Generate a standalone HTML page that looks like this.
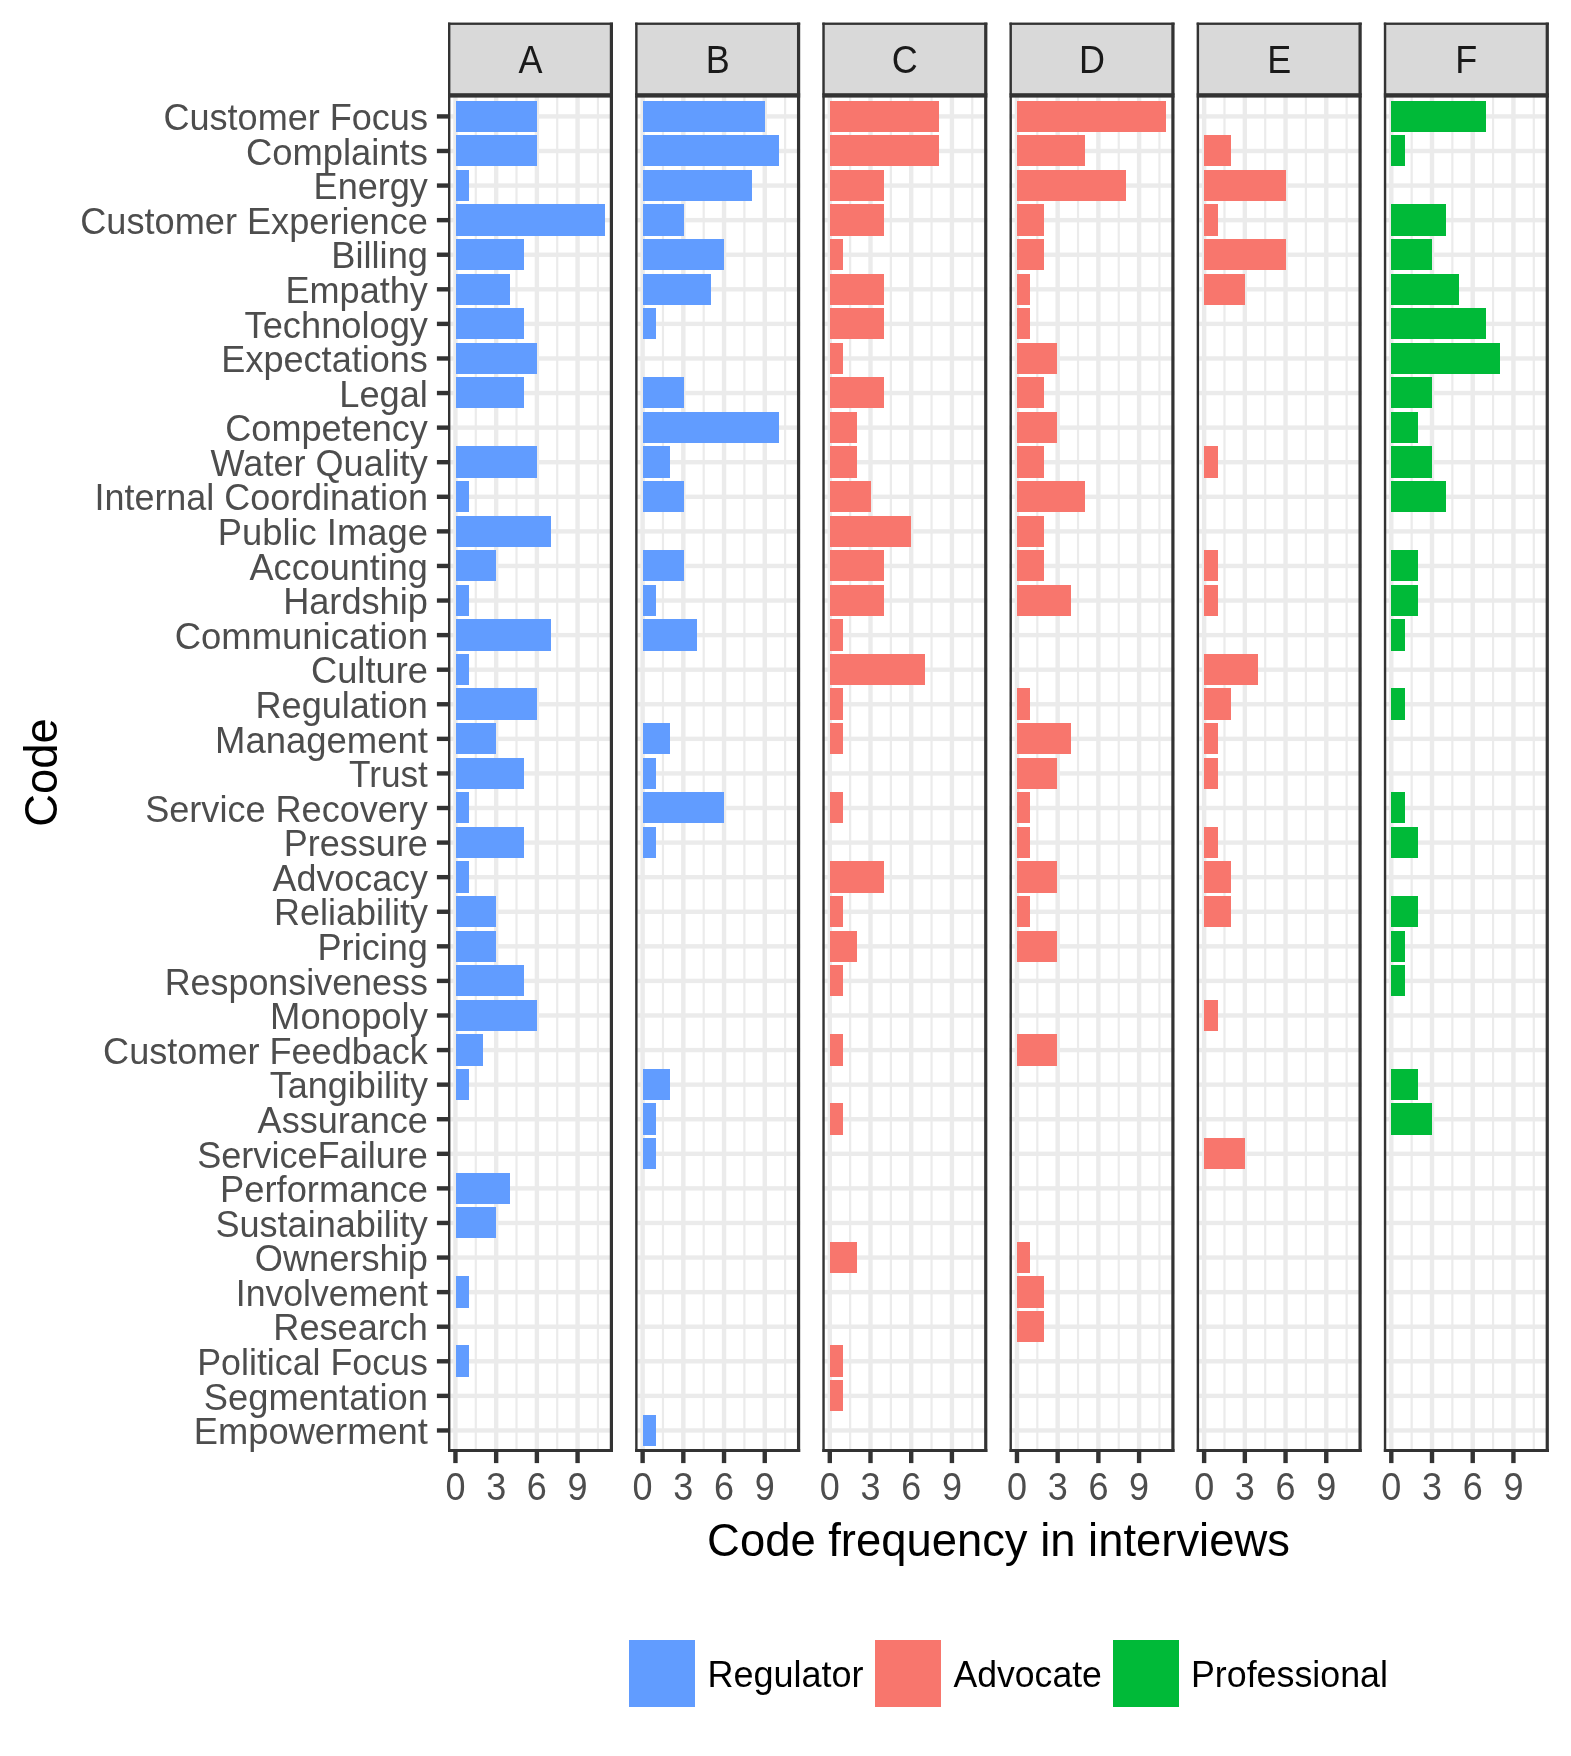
<!DOCTYPE html>
<html><head><meta charset="utf-8"><title>Code frequency</title>
<style>html,body{margin:0;padding:0;background:#fff;width:1571px;height:1756px;overflow:hidden}
text{font-family:"Liberation Sans",sans-serif}
svg{will-change:transform}</style></head>
<body>
<svg width="1571" height="1756" viewBox="0 0 1571 1756" style="display:block">
<rect width="1571" height="1756" fill="#FFFFFF"/>
<g>
<rect x="474.7" y="95.6" width="2.2" height="1356.4" fill="#EBEBEB"/>
<rect x="515.41" y="95.6" width="2.2" height="1356.4" fill="#EBEBEB"/>
<rect x="556.12" y="95.6" width="2.2" height="1356.4" fill="#EBEBEB"/>
<rect x="596.83" y="95.6" width="2.2" height="1356.4" fill="#EBEBEB"/>
<rect x="448" y="114.21" width="165" height="4.4" fill="#EBEBEB"/>
<rect x="448" y="148.79" width="165" height="4.4" fill="#EBEBEB"/>
<rect x="448" y="183.37" width="165" height="4.4" fill="#EBEBEB"/>
<rect x="448" y="217.95" width="165" height="4.4" fill="#EBEBEB"/>
<rect x="448" y="252.53" width="165" height="4.4" fill="#EBEBEB"/>
<rect x="448" y="287.11" width="165" height="4.4" fill="#EBEBEB"/>
<rect x="448" y="321.69" width="165" height="4.4" fill="#EBEBEB"/>
<rect x="448" y="356.27" width="165" height="4.4" fill="#EBEBEB"/>
<rect x="448" y="390.85" width="165" height="4.4" fill="#EBEBEB"/>
<rect x="448" y="425.43" width="165" height="4.4" fill="#EBEBEB"/>
<rect x="448" y="460.01" width="165" height="4.4" fill="#EBEBEB"/>
<rect x="448" y="494.59" width="165" height="4.4" fill="#EBEBEB"/>
<rect x="448" y="529.17" width="165" height="4.4" fill="#EBEBEB"/>
<rect x="448" y="563.75" width="165" height="4.4" fill="#EBEBEB"/>
<rect x="448" y="598.33" width="165" height="4.4" fill="#EBEBEB"/>
<rect x="448" y="632.91" width="165" height="4.4" fill="#EBEBEB"/>
<rect x="448" y="667.49" width="165" height="4.4" fill="#EBEBEB"/>
<rect x="448" y="702.07" width="165" height="4.4" fill="#EBEBEB"/>
<rect x="448" y="736.65" width="165" height="4.4" fill="#EBEBEB"/>
<rect x="448" y="771.23" width="165" height="4.4" fill="#EBEBEB"/>
<rect x="448" y="805.81" width="165" height="4.4" fill="#EBEBEB"/>
<rect x="448" y="840.39" width="165" height="4.4" fill="#EBEBEB"/>
<rect x="448" y="874.97" width="165" height="4.4" fill="#EBEBEB"/>
<rect x="448" y="909.55" width="165" height="4.4" fill="#EBEBEB"/>
<rect x="448" y="944.13" width="165" height="4.4" fill="#EBEBEB"/>
<rect x="448" y="978.71" width="165" height="4.4" fill="#EBEBEB"/>
<rect x="448" y="1013.29" width="165" height="4.4" fill="#EBEBEB"/>
<rect x="448" y="1047.87" width="165" height="4.4" fill="#EBEBEB"/>
<rect x="448" y="1082.45" width="165" height="4.4" fill="#EBEBEB"/>
<rect x="448" y="1117.03" width="165" height="4.4" fill="#EBEBEB"/>
<rect x="448" y="1151.61" width="165" height="4.4" fill="#EBEBEB"/>
<rect x="448" y="1186.19" width="165" height="4.4" fill="#EBEBEB"/>
<rect x="448" y="1220.77" width="165" height="4.4" fill="#EBEBEB"/>
<rect x="448" y="1255.35" width="165" height="4.4" fill="#EBEBEB"/>
<rect x="448" y="1289.93" width="165" height="4.4" fill="#EBEBEB"/>
<rect x="448" y="1324.51" width="165" height="4.4" fill="#EBEBEB"/>
<rect x="448" y="1359.09" width="165" height="4.4" fill="#EBEBEB"/>
<rect x="448" y="1393.67" width="165" height="4.4" fill="#EBEBEB"/>
<rect x="448" y="1428.25" width="165" height="4.4" fill="#EBEBEB"/>
<rect x="453.25" y="95.6" width="4.4" height="1356.4" fill="#EBEBEB"/>
<rect x="493.96" y="95.6" width="4.4" height="1356.4" fill="#EBEBEB"/>
<rect x="534.67" y="95.6" width="4.4" height="1356.4" fill="#EBEBEB"/>
<rect x="575.38" y="95.6" width="4.4" height="1356.4" fill="#EBEBEB"/>
<rect x="456" y="101" width="81" height="31" fill="#619CFF"/>
<rect x="456" y="135" width="81" height="31" fill="#619CFF"/>
<rect x="456" y="170" width="13" height="31" fill="#619CFF"/>
<rect x="456" y="204" width="149" height="32" fill="#619CFF"/>
<rect x="456" y="239" width="68" height="31" fill="#619CFF"/>
<rect x="456" y="274" width="54" height="31" fill="#619CFF"/>
<rect x="456" y="308" width="68" height="31" fill="#619CFF"/>
<rect x="456" y="343" width="81" height="31" fill="#619CFF"/>
<rect x="456" y="377" width="68" height="31" fill="#619CFF"/>
<rect x="456" y="446" width="81" height="32" fill="#619CFF"/>
<rect x="456" y="481" width="13" height="31" fill="#619CFF"/>
<rect x="456" y="516" width="95" height="31" fill="#619CFF"/>
<rect x="456" y="550" width="40" height="31" fill="#619CFF"/>
<rect x="456" y="585" width="13" height="31" fill="#619CFF"/>
<rect x="456" y="619" width="95" height="32" fill="#619CFF"/>
<rect x="456" y="654" width="13" height="31" fill="#619CFF"/>
<rect x="456" y="688" width="81" height="32" fill="#619CFF"/>
<rect x="456" y="723" width="40" height="31" fill="#619CFF"/>
<rect x="456" y="758" width="68" height="31" fill="#619CFF"/>
<rect x="456" y="792" width="13" height="31" fill="#619CFF"/>
<rect x="456" y="827" width="68" height="31" fill="#619CFF"/>
<rect x="456" y="861" width="13" height="32" fill="#619CFF"/>
<rect x="456" y="896" width="40" height="31" fill="#619CFF"/>
<rect x="456" y="931" width="40" height="31" fill="#619CFF"/>
<rect x="456" y="965" width="68" height="31" fill="#619CFF"/>
<rect x="456" y="1000" width="81" height="31" fill="#619CFF"/>
<rect x="456" y="1034" width="27" height="32" fill="#619CFF"/>
<rect x="456" y="1069" width="13" height="31" fill="#619CFF"/>
<rect x="456" y="1173" width="54" height="31" fill="#619CFF"/>
<rect x="456" y="1207" width="40" height="31" fill="#619CFF"/>
<rect x="456" y="1276" width="13" height="32" fill="#619CFF"/>
<rect x="456" y="1345" width="13" height="32" fill="#619CFF"/>
<rect x="448" y="95.6" width="2.4" height="1356.4" fill="#333333"/>
<rect x="609.8" y="95.6" width="3.2" height="1356.4" fill="#333333"/>
<rect x="448" y="1449" width="165" height="3" fill="#333333"/>
<rect x="448" y="22.6" width="165" height="73" fill="#D9D9D9"/>
<rect x="448" y="22.6" width="165" height="2.3" fill="#333333"/>
<rect x="448" y="22.6" width="2.4" height="73" fill="#333333"/>
<rect x="609.8" y="22.6" width="3.2" height="73" fill="#333333"/>
<rect x="448" y="93.2" width="165" height="4.4" fill="#333333"/>
<text transform="translate(530.5,72.8) scale(1,1.075)" text-anchor="middle" font-family="'Liberation Sans', sans-serif" font-size="36.0" fill="#1A1A1A">A</text>
<rect x="453.25" y="1452" width="4.4" height="11.1" fill="#333333"/>
<text transform="translate(455.45,1500.1) scale(1,1.055)" text-anchor="middle" font-family="'Liberation Sans', sans-serif" font-size="36.0" fill="#4D4D4D">0</text>
<rect x="493.96" y="1452" width="4.4" height="11.1" fill="#333333"/>
<text transform="translate(496.16,1500.1) scale(1,1.055)" text-anchor="middle" font-family="'Liberation Sans', sans-serif" font-size="36.0" fill="#4D4D4D">3</text>
<rect x="534.67" y="1452" width="4.4" height="11.1" fill="#333333"/>
<text transform="translate(536.87,1500.1) scale(1,1.055)" text-anchor="middle" font-family="'Liberation Sans', sans-serif" font-size="36.0" fill="#4D4D4D">6</text>
<rect x="575.38" y="1452" width="4.4" height="11.1" fill="#333333"/>
<text transform="translate(577.58,1500.1) scale(1,1.055)" text-anchor="middle" font-family="'Liberation Sans', sans-serif" font-size="36.0" fill="#4D4D4D">9</text>
</g>
<g>
<rect x="661.88" y="95.6" width="2.2" height="1356.4" fill="#EBEBEB"/>
<rect x="702.58" y="95.6" width="2.2" height="1356.4" fill="#EBEBEB"/>
<rect x="743.29" y="95.6" width="2.2" height="1356.4" fill="#EBEBEB"/>
<rect x="784" y="95.6" width="2.2" height="1356.4" fill="#EBEBEB"/>
<rect x="635.17" y="114.21" width="165" height="4.4" fill="#EBEBEB"/>
<rect x="635.17" y="148.79" width="165" height="4.4" fill="#EBEBEB"/>
<rect x="635.17" y="183.37" width="165" height="4.4" fill="#EBEBEB"/>
<rect x="635.17" y="217.95" width="165" height="4.4" fill="#EBEBEB"/>
<rect x="635.17" y="252.53" width="165" height="4.4" fill="#EBEBEB"/>
<rect x="635.17" y="287.11" width="165" height="4.4" fill="#EBEBEB"/>
<rect x="635.17" y="321.69" width="165" height="4.4" fill="#EBEBEB"/>
<rect x="635.17" y="356.27" width="165" height="4.4" fill="#EBEBEB"/>
<rect x="635.17" y="390.85" width="165" height="4.4" fill="#EBEBEB"/>
<rect x="635.17" y="425.43" width="165" height="4.4" fill="#EBEBEB"/>
<rect x="635.17" y="460.01" width="165" height="4.4" fill="#EBEBEB"/>
<rect x="635.17" y="494.59" width="165" height="4.4" fill="#EBEBEB"/>
<rect x="635.17" y="529.17" width="165" height="4.4" fill="#EBEBEB"/>
<rect x="635.17" y="563.75" width="165" height="4.4" fill="#EBEBEB"/>
<rect x="635.17" y="598.33" width="165" height="4.4" fill="#EBEBEB"/>
<rect x="635.17" y="632.91" width="165" height="4.4" fill="#EBEBEB"/>
<rect x="635.17" y="667.49" width="165" height="4.4" fill="#EBEBEB"/>
<rect x="635.17" y="702.07" width="165" height="4.4" fill="#EBEBEB"/>
<rect x="635.17" y="736.65" width="165" height="4.4" fill="#EBEBEB"/>
<rect x="635.17" y="771.23" width="165" height="4.4" fill="#EBEBEB"/>
<rect x="635.17" y="805.81" width="165" height="4.4" fill="#EBEBEB"/>
<rect x="635.17" y="840.39" width="165" height="4.4" fill="#EBEBEB"/>
<rect x="635.17" y="874.97" width="165" height="4.4" fill="#EBEBEB"/>
<rect x="635.17" y="909.55" width="165" height="4.4" fill="#EBEBEB"/>
<rect x="635.17" y="944.13" width="165" height="4.4" fill="#EBEBEB"/>
<rect x="635.17" y="978.71" width="165" height="4.4" fill="#EBEBEB"/>
<rect x="635.17" y="1013.29" width="165" height="4.4" fill="#EBEBEB"/>
<rect x="635.17" y="1047.87" width="165" height="4.4" fill="#EBEBEB"/>
<rect x="635.17" y="1082.45" width="165" height="4.4" fill="#EBEBEB"/>
<rect x="635.17" y="1117.03" width="165" height="4.4" fill="#EBEBEB"/>
<rect x="635.17" y="1151.61" width="165" height="4.4" fill="#EBEBEB"/>
<rect x="635.17" y="1186.19" width="165" height="4.4" fill="#EBEBEB"/>
<rect x="635.17" y="1220.77" width="165" height="4.4" fill="#EBEBEB"/>
<rect x="635.17" y="1255.35" width="165" height="4.4" fill="#EBEBEB"/>
<rect x="635.17" y="1289.93" width="165" height="4.4" fill="#EBEBEB"/>
<rect x="635.17" y="1324.51" width="165" height="4.4" fill="#EBEBEB"/>
<rect x="635.17" y="1359.09" width="165" height="4.4" fill="#EBEBEB"/>
<rect x="635.17" y="1393.67" width="165" height="4.4" fill="#EBEBEB"/>
<rect x="635.17" y="1428.25" width="165" height="4.4" fill="#EBEBEB"/>
<rect x="640.42" y="95.6" width="4.4" height="1356.4" fill="#EBEBEB"/>
<rect x="681.13" y="95.6" width="4.4" height="1356.4" fill="#EBEBEB"/>
<rect x="721.84" y="95.6" width="4.4" height="1356.4" fill="#EBEBEB"/>
<rect x="762.55" y="95.6" width="4.4" height="1356.4" fill="#EBEBEB"/>
<rect x="643" y="101" width="122" height="31" fill="#619CFF"/>
<rect x="643" y="135" width="136" height="31" fill="#619CFF"/>
<rect x="643" y="170" width="109" height="31" fill="#619CFF"/>
<rect x="643" y="204" width="41" height="32" fill="#619CFF"/>
<rect x="643" y="239" width="81" height="31" fill="#619CFF"/>
<rect x="643" y="274" width="68" height="31" fill="#619CFF"/>
<rect x="643" y="308" width="13" height="31" fill="#619CFF"/>
<rect x="643" y="377" width="41" height="31" fill="#619CFF"/>
<rect x="643" y="412" width="136" height="31" fill="#619CFF"/>
<rect x="643" y="446" width="27" height="32" fill="#619CFF"/>
<rect x="643" y="481" width="41" height="31" fill="#619CFF"/>
<rect x="643" y="550" width="41" height="31" fill="#619CFF"/>
<rect x="643" y="585" width="13" height="31" fill="#619CFF"/>
<rect x="643" y="619" width="54" height="32" fill="#619CFF"/>
<rect x="643" y="723" width="27" height="31" fill="#619CFF"/>
<rect x="643" y="758" width="13" height="31" fill="#619CFF"/>
<rect x="643" y="792" width="81" height="31" fill="#619CFF"/>
<rect x="643" y="827" width="13" height="31" fill="#619CFF"/>
<rect x="643" y="1069" width="27" height="31" fill="#619CFF"/>
<rect x="643" y="1103" width="13" height="32" fill="#619CFF"/>
<rect x="643" y="1138" width="13" height="31" fill="#619CFF"/>
<rect x="643" y="1415" width="13" height="31" fill="#619CFF"/>
<rect x="635.17" y="95.6" width="2.4" height="1356.4" fill="#333333"/>
<rect x="796.97" y="95.6" width="3.2" height="1356.4" fill="#333333"/>
<rect x="635.17" y="1449" width="165" height="3" fill="#333333"/>
<rect x="635.17" y="22.6" width="165" height="73" fill="#D9D9D9"/>
<rect x="635.17" y="22.6" width="165" height="2.3" fill="#333333"/>
<rect x="635.17" y="22.6" width="2.4" height="73" fill="#333333"/>
<rect x="796.97" y="22.6" width="3.2" height="73" fill="#333333"/>
<rect x="635.17" y="93.2" width="165" height="4.4" fill="#333333"/>
<text transform="translate(717.67,72.8) scale(1,1.075)" text-anchor="middle" font-family="'Liberation Sans', sans-serif" font-size="36.0" fill="#1A1A1A">B</text>
<rect x="640.42" y="1452" width="4.4" height="11.1" fill="#333333"/>
<text transform="translate(642.62,1500.1) scale(1,1.055)" text-anchor="middle" font-family="'Liberation Sans', sans-serif" font-size="36.0" fill="#4D4D4D">0</text>
<rect x="681.13" y="1452" width="4.4" height="11.1" fill="#333333"/>
<text transform="translate(683.33,1500.1) scale(1,1.055)" text-anchor="middle" font-family="'Liberation Sans', sans-serif" font-size="36.0" fill="#4D4D4D">3</text>
<rect x="721.84" y="1452" width="4.4" height="11.1" fill="#333333"/>
<text transform="translate(724.04,1500.1) scale(1,1.055)" text-anchor="middle" font-family="'Liberation Sans', sans-serif" font-size="36.0" fill="#4D4D4D">6</text>
<rect x="762.55" y="1452" width="4.4" height="11.1" fill="#333333"/>
<text transform="translate(764.75,1500.1) scale(1,1.055)" text-anchor="middle" font-family="'Liberation Sans', sans-serif" font-size="36.0" fill="#4D4D4D">9</text>
</g>
<g>
<rect x="849.04" y="95.6" width="2.2" height="1356.4" fill="#EBEBEB"/>
<rect x="889.75" y="95.6" width="2.2" height="1356.4" fill="#EBEBEB"/>
<rect x="930.46" y="95.6" width="2.2" height="1356.4" fill="#EBEBEB"/>
<rect x="971.17" y="95.6" width="2.2" height="1356.4" fill="#EBEBEB"/>
<rect x="822.34" y="114.21" width="165" height="4.4" fill="#EBEBEB"/>
<rect x="822.34" y="148.79" width="165" height="4.4" fill="#EBEBEB"/>
<rect x="822.34" y="183.37" width="165" height="4.4" fill="#EBEBEB"/>
<rect x="822.34" y="217.95" width="165" height="4.4" fill="#EBEBEB"/>
<rect x="822.34" y="252.53" width="165" height="4.4" fill="#EBEBEB"/>
<rect x="822.34" y="287.11" width="165" height="4.4" fill="#EBEBEB"/>
<rect x="822.34" y="321.69" width="165" height="4.4" fill="#EBEBEB"/>
<rect x="822.34" y="356.27" width="165" height="4.4" fill="#EBEBEB"/>
<rect x="822.34" y="390.85" width="165" height="4.4" fill="#EBEBEB"/>
<rect x="822.34" y="425.43" width="165" height="4.4" fill="#EBEBEB"/>
<rect x="822.34" y="460.01" width="165" height="4.4" fill="#EBEBEB"/>
<rect x="822.34" y="494.59" width="165" height="4.4" fill="#EBEBEB"/>
<rect x="822.34" y="529.17" width="165" height="4.4" fill="#EBEBEB"/>
<rect x="822.34" y="563.75" width="165" height="4.4" fill="#EBEBEB"/>
<rect x="822.34" y="598.33" width="165" height="4.4" fill="#EBEBEB"/>
<rect x="822.34" y="632.91" width="165" height="4.4" fill="#EBEBEB"/>
<rect x="822.34" y="667.49" width="165" height="4.4" fill="#EBEBEB"/>
<rect x="822.34" y="702.07" width="165" height="4.4" fill="#EBEBEB"/>
<rect x="822.34" y="736.65" width="165" height="4.4" fill="#EBEBEB"/>
<rect x="822.34" y="771.23" width="165" height="4.4" fill="#EBEBEB"/>
<rect x="822.34" y="805.81" width="165" height="4.4" fill="#EBEBEB"/>
<rect x="822.34" y="840.39" width="165" height="4.4" fill="#EBEBEB"/>
<rect x="822.34" y="874.97" width="165" height="4.4" fill="#EBEBEB"/>
<rect x="822.34" y="909.55" width="165" height="4.4" fill="#EBEBEB"/>
<rect x="822.34" y="944.13" width="165" height="4.4" fill="#EBEBEB"/>
<rect x="822.34" y="978.71" width="165" height="4.4" fill="#EBEBEB"/>
<rect x="822.34" y="1013.29" width="165" height="4.4" fill="#EBEBEB"/>
<rect x="822.34" y="1047.87" width="165" height="4.4" fill="#EBEBEB"/>
<rect x="822.34" y="1082.45" width="165" height="4.4" fill="#EBEBEB"/>
<rect x="822.34" y="1117.03" width="165" height="4.4" fill="#EBEBEB"/>
<rect x="822.34" y="1151.61" width="165" height="4.4" fill="#EBEBEB"/>
<rect x="822.34" y="1186.19" width="165" height="4.4" fill="#EBEBEB"/>
<rect x="822.34" y="1220.77" width="165" height="4.4" fill="#EBEBEB"/>
<rect x="822.34" y="1255.35" width="165" height="4.4" fill="#EBEBEB"/>
<rect x="822.34" y="1289.93" width="165" height="4.4" fill="#EBEBEB"/>
<rect x="822.34" y="1324.51" width="165" height="4.4" fill="#EBEBEB"/>
<rect x="822.34" y="1359.09" width="165" height="4.4" fill="#EBEBEB"/>
<rect x="822.34" y="1393.67" width="165" height="4.4" fill="#EBEBEB"/>
<rect x="822.34" y="1428.25" width="165" height="4.4" fill="#EBEBEB"/>
<rect x="827.59" y="95.6" width="4.4" height="1356.4" fill="#EBEBEB"/>
<rect x="868.3" y="95.6" width="4.4" height="1356.4" fill="#EBEBEB"/>
<rect x="909.01" y="95.6" width="4.4" height="1356.4" fill="#EBEBEB"/>
<rect x="949.72" y="95.6" width="4.4" height="1356.4" fill="#EBEBEB"/>
<rect x="830" y="101" width="109" height="31" fill="#F8766D"/>
<rect x="830" y="135" width="109" height="31" fill="#F8766D"/>
<rect x="830" y="170" width="54" height="31" fill="#F8766D"/>
<rect x="830" y="204" width="54" height="32" fill="#F8766D"/>
<rect x="830" y="239" width="13" height="31" fill="#F8766D"/>
<rect x="830" y="274" width="54" height="31" fill="#F8766D"/>
<rect x="830" y="308" width="54" height="31" fill="#F8766D"/>
<rect x="830" y="343" width="13" height="31" fill="#F8766D"/>
<rect x="830" y="377" width="54" height="31" fill="#F8766D"/>
<rect x="830" y="412" width="27" height="31" fill="#F8766D"/>
<rect x="830" y="446" width="27" height="32" fill="#F8766D"/>
<rect x="830" y="481" width="41" height="31" fill="#F8766D"/>
<rect x="830" y="516" width="81" height="31" fill="#F8766D"/>
<rect x="830" y="550" width="54" height="31" fill="#F8766D"/>
<rect x="830" y="585" width="54" height="31" fill="#F8766D"/>
<rect x="830" y="619" width="13" height="32" fill="#F8766D"/>
<rect x="830" y="654" width="95" height="31" fill="#F8766D"/>
<rect x="830" y="688" width="13" height="32" fill="#F8766D"/>
<rect x="830" y="723" width="13" height="31" fill="#F8766D"/>
<rect x="830" y="792" width="13" height="31" fill="#F8766D"/>
<rect x="830" y="861" width="54" height="32" fill="#F8766D"/>
<rect x="830" y="896" width="13" height="31" fill="#F8766D"/>
<rect x="830" y="931" width="27" height="31" fill="#F8766D"/>
<rect x="830" y="965" width="13" height="31" fill="#F8766D"/>
<rect x="830" y="1034" width="13" height="32" fill="#F8766D"/>
<rect x="830" y="1103" width="13" height="32" fill="#F8766D"/>
<rect x="830" y="1242" width="27" height="31" fill="#F8766D"/>
<rect x="830" y="1345" width="13" height="32" fill="#F8766D"/>
<rect x="830" y="1380" width="13" height="31" fill="#F8766D"/>
<rect x="822.34" y="95.6" width="2.4" height="1356.4" fill="#333333"/>
<rect x="984.14" y="95.6" width="3.2" height="1356.4" fill="#333333"/>
<rect x="822.34" y="1449" width="165" height="3" fill="#333333"/>
<rect x="822.34" y="22.6" width="165" height="73" fill="#D9D9D9"/>
<rect x="822.34" y="22.6" width="165" height="2.3" fill="#333333"/>
<rect x="822.34" y="22.6" width="2.4" height="73" fill="#333333"/>
<rect x="984.14" y="22.6" width="3.2" height="73" fill="#333333"/>
<rect x="822.34" y="93.2" width="165" height="4.4" fill="#333333"/>
<text transform="translate(904.84,72.8) scale(1,1.075)" text-anchor="middle" font-family="'Liberation Sans', sans-serif" font-size="36.0" fill="#1A1A1A">C</text>
<rect x="827.59" y="1452" width="4.4" height="11.1" fill="#333333"/>
<text transform="translate(829.79,1500.1) scale(1,1.055)" text-anchor="middle" font-family="'Liberation Sans', sans-serif" font-size="36.0" fill="#4D4D4D">0</text>
<rect x="868.3" y="1452" width="4.4" height="11.1" fill="#333333"/>
<text transform="translate(870.5,1500.1) scale(1,1.055)" text-anchor="middle" font-family="'Liberation Sans', sans-serif" font-size="36.0" fill="#4D4D4D">3</text>
<rect x="909.01" y="1452" width="4.4" height="11.1" fill="#333333"/>
<text transform="translate(911.21,1500.1) scale(1,1.055)" text-anchor="middle" font-family="'Liberation Sans', sans-serif" font-size="36.0" fill="#4D4D4D">6</text>
<rect x="949.72" y="1452" width="4.4" height="11.1" fill="#333333"/>
<text transform="translate(951.92,1500.1) scale(1,1.055)" text-anchor="middle" font-family="'Liberation Sans', sans-serif" font-size="36.0" fill="#4D4D4D">9</text>
</g>
<g>
<rect x="1036.22" y="95.6" width="2.2" height="1356.4" fill="#EBEBEB"/>
<rect x="1076.93" y="95.6" width="2.2" height="1356.4" fill="#EBEBEB"/>
<rect x="1117.64" y="95.6" width="2.2" height="1356.4" fill="#EBEBEB"/>
<rect x="1158.35" y="95.6" width="2.2" height="1356.4" fill="#EBEBEB"/>
<rect x="1009.51" y="114.21" width="165" height="4.4" fill="#EBEBEB"/>
<rect x="1009.51" y="148.79" width="165" height="4.4" fill="#EBEBEB"/>
<rect x="1009.51" y="183.37" width="165" height="4.4" fill="#EBEBEB"/>
<rect x="1009.51" y="217.95" width="165" height="4.4" fill="#EBEBEB"/>
<rect x="1009.51" y="252.53" width="165" height="4.4" fill="#EBEBEB"/>
<rect x="1009.51" y="287.11" width="165" height="4.4" fill="#EBEBEB"/>
<rect x="1009.51" y="321.69" width="165" height="4.4" fill="#EBEBEB"/>
<rect x="1009.51" y="356.27" width="165" height="4.4" fill="#EBEBEB"/>
<rect x="1009.51" y="390.85" width="165" height="4.4" fill="#EBEBEB"/>
<rect x="1009.51" y="425.43" width="165" height="4.4" fill="#EBEBEB"/>
<rect x="1009.51" y="460.01" width="165" height="4.4" fill="#EBEBEB"/>
<rect x="1009.51" y="494.59" width="165" height="4.4" fill="#EBEBEB"/>
<rect x="1009.51" y="529.17" width="165" height="4.4" fill="#EBEBEB"/>
<rect x="1009.51" y="563.75" width="165" height="4.4" fill="#EBEBEB"/>
<rect x="1009.51" y="598.33" width="165" height="4.4" fill="#EBEBEB"/>
<rect x="1009.51" y="632.91" width="165" height="4.4" fill="#EBEBEB"/>
<rect x="1009.51" y="667.49" width="165" height="4.4" fill="#EBEBEB"/>
<rect x="1009.51" y="702.07" width="165" height="4.4" fill="#EBEBEB"/>
<rect x="1009.51" y="736.65" width="165" height="4.4" fill="#EBEBEB"/>
<rect x="1009.51" y="771.23" width="165" height="4.4" fill="#EBEBEB"/>
<rect x="1009.51" y="805.81" width="165" height="4.4" fill="#EBEBEB"/>
<rect x="1009.51" y="840.39" width="165" height="4.4" fill="#EBEBEB"/>
<rect x="1009.51" y="874.97" width="165" height="4.4" fill="#EBEBEB"/>
<rect x="1009.51" y="909.55" width="165" height="4.4" fill="#EBEBEB"/>
<rect x="1009.51" y="944.13" width="165" height="4.4" fill="#EBEBEB"/>
<rect x="1009.51" y="978.71" width="165" height="4.4" fill="#EBEBEB"/>
<rect x="1009.51" y="1013.29" width="165" height="4.4" fill="#EBEBEB"/>
<rect x="1009.51" y="1047.87" width="165" height="4.4" fill="#EBEBEB"/>
<rect x="1009.51" y="1082.45" width="165" height="4.4" fill="#EBEBEB"/>
<rect x="1009.51" y="1117.03" width="165" height="4.4" fill="#EBEBEB"/>
<rect x="1009.51" y="1151.61" width="165" height="4.4" fill="#EBEBEB"/>
<rect x="1009.51" y="1186.19" width="165" height="4.4" fill="#EBEBEB"/>
<rect x="1009.51" y="1220.77" width="165" height="4.4" fill="#EBEBEB"/>
<rect x="1009.51" y="1255.35" width="165" height="4.4" fill="#EBEBEB"/>
<rect x="1009.51" y="1289.93" width="165" height="4.4" fill="#EBEBEB"/>
<rect x="1009.51" y="1324.51" width="165" height="4.4" fill="#EBEBEB"/>
<rect x="1009.51" y="1359.09" width="165" height="4.4" fill="#EBEBEB"/>
<rect x="1009.51" y="1393.67" width="165" height="4.4" fill="#EBEBEB"/>
<rect x="1009.51" y="1428.25" width="165" height="4.4" fill="#EBEBEB"/>
<rect x="1014.76" y="95.6" width="4.4" height="1356.4" fill="#EBEBEB"/>
<rect x="1055.47" y="95.6" width="4.4" height="1356.4" fill="#EBEBEB"/>
<rect x="1096.18" y="95.6" width="4.4" height="1356.4" fill="#EBEBEB"/>
<rect x="1136.89" y="95.6" width="4.4" height="1356.4" fill="#EBEBEB"/>
<rect x="1017" y="101" width="149" height="31" fill="#F8766D"/>
<rect x="1017" y="135" width="68" height="31" fill="#F8766D"/>
<rect x="1017" y="170" width="109" height="31" fill="#F8766D"/>
<rect x="1017" y="204" width="27" height="32" fill="#F8766D"/>
<rect x="1017" y="239" width="27" height="31" fill="#F8766D"/>
<rect x="1017" y="274" width="13" height="31" fill="#F8766D"/>
<rect x="1017" y="308" width="13" height="31" fill="#F8766D"/>
<rect x="1017" y="343" width="40" height="31" fill="#F8766D"/>
<rect x="1017" y="377" width="27" height="31" fill="#F8766D"/>
<rect x="1017" y="412" width="40" height="31" fill="#F8766D"/>
<rect x="1017" y="446" width="27" height="32" fill="#F8766D"/>
<rect x="1017" y="481" width="68" height="31" fill="#F8766D"/>
<rect x="1017" y="516" width="27" height="31" fill="#F8766D"/>
<rect x="1017" y="550" width="27" height="31" fill="#F8766D"/>
<rect x="1017" y="585" width="54" height="31" fill="#F8766D"/>
<rect x="1017" y="688" width="13" height="32" fill="#F8766D"/>
<rect x="1017" y="723" width="54" height="31" fill="#F8766D"/>
<rect x="1017" y="758" width="40" height="31" fill="#F8766D"/>
<rect x="1017" y="792" width="13" height="31" fill="#F8766D"/>
<rect x="1017" y="827" width="13" height="31" fill="#F8766D"/>
<rect x="1017" y="861" width="40" height="32" fill="#F8766D"/>
<rect x="1017" y="896" width="13" height="31" fill="#F8766D"/>
<rect x="1017" y="931" width="40" height="31" fill="#F8766D"/>
<rect x="1017" y="1034" width="40" height="32" fill="#F8766D"/>
<rect x="1017" y="1242" width="13" height="31" fill="#F8766D"/>
<rect x="1017" y="1276" width="27" height="32" fill="#F8766D"/>
<rect x="1017" y="1311" width="27" height="31" fill="#F8766D"/>
<rect x="1009.51" y="95.6" width="2.4" height="1356.4" fill="#333333"/>
<rect x="1171.31" y="95.6" width="3.2" height="1356.4" fill="#333333"/>
<rect x="1009.51" y="1449" width="165" height="3" fill="#333333"/>
<rect x="1009.51" y="22.6" width="165" height="73" fill="#D9D9D9"/>
<rect x="1009.51" y="22.6" width="165" height="2.3" fill="#333333"/>
<rect x="1009.51" y="22.6" width="2.4" height="73" fill="#333333"/>
<rect x="1171.31" y="22.6" width="3.2" height="73" fill="#333333"/>
<rect x="1009.51" y="93.2" width="165" height="4.4" fill="#333333"/>
<text transform="translate(1092.01,72.8) scale(1,1.075)" text-anchor="middle" font-family="'Liberation Sans', sans-serif" font-size="36.0" fill="#1A1A1A">D</text>
<rect x="1014.76" y="1452" width="4.4" height="11.1" fill="#333333"/>
<text transform="translate(1016.96,1500.1) scale(1,1.055)" text-anchor="middle" font-family="'Liberation Sans', sans-serif" font-size="36.0" fill="#4D4D4D">0</text>
<rect x="1055.47" y="1452" width="4.4" height="11.1" fill="#333333"/>
<text transform="translate(1057.67,1500.1) scale(1,1.055)" text-anchor="middle" font-family="'Liberation Sans', sans-serif" font-size="36.0" fill="#4D4D4D">3</text>
<rect x="1096.18" y="1452" width="4.4" height="11.1" fill="#333333"/>
<text transform="translate(1098.38,1500.1) scale(1,1.055)" text-anchor="middle" font-family="'Liberation Sans', sans-serif" font-size="36.0" fill="#4D4D4D">6</text>
<rect x="1136.89" y="1452" width="4.4" height="11.1" fill="#333333"/>
<text transform="translate(1139.09,1500.1) scale(1,1.055)" text-anchor="middle" font-family="'Liberation Sans', sans-serif" font-size="36.0" fill="#4D4D4D">9</text>
</g>
<g>
<rect x="1223.38" y="95.6" width="2.2" height="1356.4" fill="#EBEBEB"/>
<rect x="1264.1" y="95.6" width="2.2" height="1356.4" fill="#EBEBEB"/>
<rect x="1304.81" y="95.6" width="2.2" height="1356.4" fill="#EBEBEB"/>
<rect x="1345.51" y="95.6" width="2.2" height="1356.4" fill="#EBEBEB"/>
<rect x="1196.68" y="114.21" width="165" height="4.4" fill="#EBEBEB"/>
<rect x="1196.68" y="148.79" width="165" height="4.4" fill="#EBEBEB"/>
<rect x="1196.68" y="183.37" width="165" height="4.4" fill="#EBEBEB"/>
<rect x="1196.68" y="217.95" width="165" height="4.4" fill="#EBEBEB"/>
<rect x="1196.68" y="252.53" width="165" height="4.4" fill="#EBEBEB"/>
<rect x="1196.68" y="287.11" width="165" height="4.4" fill="#EBEBEB"/>
<rect x="1196.68" y="321.69" width="165" height="4.4" fill="#EBEBEB"/>
<rect x="1196.68" y="356.27" width="165" height="4.4" fill="#EBEBEB"/>
<rect x="1196.68" y="390.85" width="165" height="4.4" fill="#EBEBEB"/>
<rect x="1196.68" y="425.43" width="165" height="4.4" fill="#EBEBEB"/>
<rect x="1196.68" y="460.01" width="165" height="4.4" fill="#EBEBEB"/>
<rect x="1196.68" y="494.59" width="165" height="4.4" fill="#EBEBEB"/>
<rect x="1196.68" y="529.17" width="165" height="4.4" fill="#EBEBEB"/>
<rect x="1196.68" y="563.75" width="165" height="4.4" fill="#EBEBEB"/>
<rect x="1196.68" y="598.33" width="165" height="4.4" fill="#EBEBEB"/>
<rect x="1196.68" y="632.91" width="165" height="4.4" fill="#EBEBEB"/>
<rect x="1196.68" y="667.49" width="165" height="4.4" fill="#EBEBEB"/>
<rect x="1196.68" y="702.07" width="165" height="4.4" fill="#EBEBEB"/>
<rect x="1196.68" y="736.65" width="165" height="4.4" fill="#EBEBEB"/>
<rect x="1196.68" y="771.23" width="165" height="4.4" fill="#EBEBEB"/>
<rect x="1196.68" y="805.81" width="165" height="4.4" fill="#EBEBEB"/>
<rect x="1196.68" y="840.39" width="165" height="4.4" fill="#EBEBEB"/>
<rect x="1196.68" y="874.97" width="165" height="4.4" fill="#EBEBEB"/>
<rect x="1196.68" y="909.55" width="165" height="4.4" fill="#EBEBEB"/>
<rect x="1196.68" y="944.13" width="165" height="4.4" fill="#EBEBEB"/>
<rect x="1196.68" y="978.71" width="165" height="4.4" fill="#EBEBEB"/>
<rect x="1196.68" y="1013.29" width="165" height="4.4" fill="#EBEBEB"/>
<rect x="1196.68" y="1047.87" width="165" height="4.4" fill="#EBEBEB"/>
<rect x="1196.68" y="1082.45" width="165" height="4.4" fill="#EBEBEB"/>
<rect x="1196.68" y="1117.03" width="165" height="4.4" fill="#EBEBEB"/>
<rect x="1196.68" y="1151.61" width="165" height="4.4" fill="#EBEBEB"/>
<rect x="1196.68" y="1186.19" width="165" height="4.4" fill="#EBEBEB"/>
<rect x="1196.68" y="1220.77" width="165" height="4.4" fill="#EBEBEB"/>
<rect x="1196.68" y="1255.35" width="165" height="4.4" fill="#EBEBEB"/>
<rect x="1196.68" y="1289.93" width="165" height="4.4" fill="#EBEBEB"/>
<rect x="1196.68" y="1324.51" width="165" height="4.4" fill="#EBEBEB"/>
<rect x="1196.68" y="1359.09" width="165" height="4.4" fill="#EBEBEB"/>
<rect x="1196.68" y="1393.67" width="165" height="4.4" fill="#EBEBEB"/>
<rect x="1196.68" y="1428.25" width="165" height="4.4" fill="#EBEBEB"/>
<rect x="1201.93" y="95.6" width="4.4" height="1356.4" fill="#EBEBEB"/>
<rect x="1242.64" y="95.6" width="4.4" height="1356.4" fill="#EBEBEB"/>
<rect x="1283.35" y="95.6" width="4.4" height="1356.4" fill="#EBEBEB"/>
<rect x="1324.06" y="95.6" width="4.4" height="1356.4" fill="#EBEBEB"/>
<rect x="1204" y="135" width="27" height="31" fill="#F8766D"/>
<rect x="1204" y="170" width="82" height="31" fill="#F8766D"/>
<rect x="1204" y="204" width="14" height="32" fill="#F8766D"/>
<rect x="1204" y="239" width="82" height="31" fill="#F8766D"/>
<rect x="1204" y="274" width="41" height="31" fill="#F8766D"/>
<rect x="1204" y="446" width="14" height="32" fill="#F8766D"/>
<rect x="1204" y="550" width="14" height="31" fill="#F8766D"/>
<rect x="1204" y="585" width="14" height="31" fill="#F8766D"/>
<rect x="1204" y="654" width="54" height="31" fill="#F8766D"/>
<rect x="1204" y="688" width="27" height="32" fill="#F8766D"/>
<rect x="1204" y="723" width="14" height="31" fill="#F8766D"/>
<rect x="1204" y="758" width="14" height="31" fill="#F8766D"/>
<rect x="1204" y="827" width="14" height="31" fill="#F8766D"/>
<rect x="1204" y="861" width="27" height="32" fill="#F8766D"/>
<rect x="1204" y="896" width="27" height="31" fill="#F8766D"/>
<rect x="1204" y="1000" width="14" height="31" fill="#F8766D"/>
<rect x="1204" y="1138" width="41" height="31" fill="#F8766D"/>
<rect x="1196.68" y="95.6" width="2.4" height="1356.4" fill="#333333"/>
<rect x="1358.48" y="95.6" width="3.2" height="1356.4" fill="#333333"/>
<rect x="1196.68" y="1449" width="165" height="3" fill="#333333"/>
<rect x="1196.68" y="22.6" width="165" height="73" fill="#D9D9D9"/>
<rect x="1196.68" y="22.6" width="165" height="2.3" fill="#333333"/>
<rect x="1196.68" y="22.6" width="2.4" height="73" fill="#333333"/>
<rect x="1358.48" y="22.6" width="3.2" height="73" fill="#333333"/>
<rect x="1196.68" y="93.2" width="165" height="4.4" fill="#333333"/>
<text transform="translate(1279.18,72.8) scale(1,1.075)" text-anchor="middle" font-family="'Liberation Sans', sans-serif" font-size="36.0" fill="#1A1A1A">E</text>
<rect x="1201.93" y="1452" width="4.4" height="11.1" fill="#333333"/>
<text transform="translate(1204.13,1500.1) scale(1,1.055)" text-anchor="middle" font-family="'Liberation Sans', sans-serif" font-size="36.0" fill="#4D4D4D">0</text>
<rect x="1242.64" y="1452" width="4.4" height="11.1" fill="#333333"/>
<text transform="translate(1244.84,1500.1) scale(1,1.055)" text-anchor="middle" font-family="'Liberation Sans', sans-serif" font-size="36.0" fill="#4D4D4D">3</text>
<rect x="1283.35" y="1452" width="4.4" height="11.1" fill="#333333"/>
<text transform="translate(1285.55,1500.1) scale(1,1.055)" text-anchor="middle" font-family="'Liberation Sans', sans-serif" font-size="36.0" fill="#4D4D4D">6</text>
<rect x="1324.06" y="1452" width="4.4" height="11.1" fill="#333333"/>
<text transform="translate(1326.26,1500.1) scale(1,1.055)" text-anchor="middle" font-family="'Liberation Sans', sans-serif" font-size="36.0" fill="#4D4D4D">9</text>
</g>
<g>
<rect x="1410.56" y="95.6" width="2.2" height="1356.4" fill="#EBEBEB"/>
<rect x="1451.27" y="95.6" width="2.2" height="1356.4" fill="#EBEBEB"/>
<rect x="1491.98" y="95.6" width="2.2" height="1356.4" fill="#EBEBEB"/>
<rect x="1532.68" y="95.6" width="2.2" height="1356.4" fill="#EBEBEB"/>
<rect x="1383.85" y="114.21" width="165" height="4.4" fill="#EBEBEB"/>
<rect x="1383.85" y="148.79" width="165" height="4.4" fill="#EBEBEB"/>
<rect x="1383.85" y="183.37" width="165" height="4.4" fill="#EBEBEB"/>
<rect x="1383.85" y="217.95" width="165" height="4.4" fill="#EBEBEB"/>
<rect x="1383.85" y="252.53" width="165" height="4.4" fill="#EBEBEB"/>
<rect x="1383.85" y="287.11" width="165" height="4.4" fill="#EBEBEB"/>
<rect x="1383.85" y="321.69" width="165" height="4.4" fill="#EBEBEB"/>
<rect x="1383.85" y="356.27" width="165" height="4.4" fill="#EBEBEB"/>
<rect x="1383.85" y="390.85" width="165" height="4.4" fill="#EBEBEB"/>
<rect x="1383.85" y="425.43" width="165" height="4.4" fill="#EBEBEB"/>
<rect x="1383.85" y="460.01" width="165" height="4.4" fill="#EBEBEB"/>
<rect x="1383.85" y="494.59" width="165" height="4.4" fill="#EBEBEB"/>
<rect x="1383.85" y="529.17" width="165" height="4.4" fill="#EBEBEB"/>
<rect x="1383.85" y="563.75" width="165" height="4.4" fill="#EBEBEB"/>
<rect x="1383.85" y="598.33" width="165" height="4.4" fill="#EBEBEB"/>
<rect x="1383.85" y="632.91" width="165" height="4.4" fill="#EBEBEB"/>
<rect x="1383.85" y="667.49" width="165" height="4.4" fill="#EBEBEB"/>
<rect x="1383.85" y="702.07" width="165" height="4.4" fill="#EBEBEB"/>
<rect x="1383.85" y="736.65" width="165" height="4.4" fill="#EBEBEB"/>
<rect x="1383.85" y="771.23" width="165" height="4.4" fill="#EBEBEB"/>
<rect x="1383.85" y="805.81" width="165" height="4.4" fill="#EBEBEB"/>
<rect x="1383.85" y="840.39" width="165" height="4.4" fill="#EBEBEB"/>
<rect x="1383.85" y="874.97" width="165" height="4.4" fill="#EBEBEB"/>
<rect x="1383.85" y="909.55" width="165" height="4.4" fill="#EBEBEB"/>
<rect x="1383.85" y="944.13" width="165" height="4.4" fill="#EBEBEB"/>
<rect x="1383.85" y="978.71" width="165" height="4.4" fill="#EBEBEB"/>
<rect x="1383.85" y="1013.29" width="165" height="4.4" fill="#EBEBEB"/>
<rect x="1383.85" y="1047.87" width="165" height="4.4" fill="#EBEBEB"/>
<rect x="1383.85" y="1082.45" width="165" height="4.4" fill="#EBEBEB"/>
<rect x="1383.85" y="1117.03" width="165" height="4.4" fill="#EBEBEB"/>
<rect x="1383.85" y="1151.61" width="165" height="4.4" fill="#EBEBEB"/>
<rect x="1383.85" y="1186.19" width="165" height="4.4" fill="#EBEBEB"/>
<rect x="1383.85" y="1220.77" width="165" height="4.4" fill="#EBEBEB"/>
<rect x="1383.85" y="1255.35" width="165" height="4.4" fill="#EBEBEB"/>
<rect x="1383.85" y="1289.93" width="165" height="4.4" fill="#EBEBEB"/>
<rect x="1383.85" y="1324.51" width="165" height="4.4" fill="#EBEBEB"/>
<rect x="1383.85" y="1359.09" width="165" height="4.4" fill="#EBEBEB"/>
<rect x="1383.85" y="1393.67" width="165" height="4.4" fill="#EBEBEB"/>
<rect x="1383.85" y="1428.25" width="165" height="4.4" fill="#EBEBEB"/>
<rect x="1389.1" y="95.6" width="4.4" height="1356.4" fill="#EBEBEB"/>
<rect x="1429.81" y="95.6" width="4.4" height="1356.4" fill="#EBEBEB"/>
<rect x="1470.52" y="95.6" width="4.4" height="1356.4" fill="#EBEBEB"/>
<rect x="1511.23" y="95.6" width="4.4" height="1356.4" fill="#EBEBEB"/>
<rect x="1391" y="101" width="95" height="31" fill="#00BA38"/>
<rect x="1391" y="135" width="14" height="31" fill="#00BA38"/>
<rect x="1391" y="204" width="55" height="32" fill="#00BA38"/>
<rect x="1391" y="239" width="41" height="31" fill="#00BA38"/>
<rect x="1391" y="274" width="68" height="31" fill="#00BA38"/>
<rect x="1391" y="308" width="95" height="31" fill="#00BA38"/>
<rect x="1391" y="343" width="109" height="31" fill="#00BA38"/>
<rect x="1391" y="377" width="41" height="31" fill="#00BA38"/>
<rect x="1391" y="412" width="27" height="31" fill="#00BA38"/>
<rect x="1391" y="446" width="41" height="32" fill="#00BA38"/>
<rect x="1391" y="481" width="55" height="31" fill="#00BA38"/>
<rect x="1391" y="550" width="27" height="31" fill="#00BA38"/>
<rect x="1391" y="585" width="27" height="31" fill="#00BA38"/>
<rect x="1391" y="619" width="14" height="32" fill="#00BA38"/>
<rect x="1391" y="688" width="14" height="32" fill="#00BA38"/>
<rect x="1391" y="792" width="14" height="31" fill="#00BA38"/>
<rect x="1391" y="827" width="27" height="31" fill="#00BA38"/>
<rect x="1391" y="896" width="27" height="31" fill="#00BA38"/>
<rect x="1391" y="931" width="14" height="31" fill="#00BA38"/>
<rect x="1391" y="965" width="14" height="31" fill="#00BA38"/>
<rect x="1391" y="1069" width="27" height="31" fill="#00BA38"/>
<rect x="1391" y="1103" width="41" height="32" fill="#00BA38"/>
<rect x="1383.85" y="95.6" width="2.4" height="1356.4" fill="#333333"/>
<rect x="1545.65" y="95.6" width="3.2" height="1356.4" fill="#333333"/>
<rect x="1383.85" y="1449" width="165" height="3" fill="#333333"/>
<rect x="1383.85" y="22.6" width="165" height="73" fill="#D9D9D9"/>
<rect x="1383.85" y="22.6" width="165" height="2.3" fill="#333333"/>
<rect x="1383.85" y="22.6" width="2.4" height="73" fill="#333333"/>
<rect x="1545.65" y="22.6" width="3.2" height="73" fill="#333333"/>
<rect x="1383.85" y="93.2" width="165" height="4.4" fill="#333333"/>
<text transform="translate(1466.35,72.8) scale(1,1.075)" text-anchor="middle" font-family="'Liberation Sans', sans-serif" font-size="36.0" fill="#1A1A1A">F</text>
<rect x="1389.1" y="1452" width="4.4" height="11.1" fill="#333333"/>
<text transform="translate(1391.3,1500.1) scale(1,1.055)" text-anchor="middle" font-family="'Liberation Sans', sans-serif" font-size="36.0" fill="#4D4D4D">0</text>
<rect x="1429.81" y="1452" width="4.4" height="11.1" fill="#333333"/>
<text transform="translate(1432.01,1500.1) scale(1,1.055)" text-anchor="middle" font-family="'Liberation Sans', sans-serif" font-size="36.0" fill="#4D4D4D">3</text>
<rect x="1470.52" y="1452" width="4.4" height="11.1" fill="#333333"/>
<text transform="translate(1472.72,1500.1) scale(1,1.055)" text-anchor="middle" font-family="'Liberation Sans', sans-serif" font-size="36.0" fill="#4D4D4D">6</text>
<rect x="1511.23" y="1452" width="4.4" height="11.1" fill="#333333"/>
<text transform="translate(1513.43,1500.1) scale(1,1.055)" text-anchor="middle" font-family="'Liberation Sans', sans-serif" font-size="36.0" fill="#4D4D4D">9</text>
</g>
<rect x="436.9" y="114.21" width="11.1" height="4.4" fill="#333333"/>
<text transform="translate(427.9,130.11) scale(1.0017,1.02)" text-anchor="end" font-family="'Liberation Sans', sans-serif" font-size="36.0" fill="#4D4D4D">Customer Focus</text>
<rect x="436.9" y="148.79" width="11.1" height="4.4" fill="#333333"/>
<text transform="translate(427.9,164.69) scale(1.011,1.02)" text-anchor="end" font-family="'Liberation Sans', sans-serif" font-size="36.0" fill="#4D4D4D">Complaints</text>
<rect x="436.9" y="183.37" width="11.1" height="4.4" fill="#333333"/>
<text transform="translate(427.9,199.27) scale(1.0023,1.02)" text-anchor="end" font-family="'Liberation Sans', sans-serif" font-size="36.0" fill="#4D4D4D">Energy</text>
<rect x="436.9" y="217.95" width="11.1" height="4.4" fill="#333333"/>
<text transform="translate(427.9,233.85) scale(1.0048,1.02)" text-anchor="end" font-family="'Liberation Sans', sans-serif" font-size="36.0" fill="#4D4D4D">Customer Experience</text>
<rect x="436.9" y="252.53" width="11.1" height="4.4" fill="#333333"/>
<text transform="translate(427.9,268.43) scale(1.0059,1.02)" text-anchor="end" font-family="'Liberation Sans', sans-serif" font-size="36.0" fill="#4D4D4D">Billing</text>
<rect x="436.9" y="287.11" width="11.1" height="4.4" fill="#333333"/>
<text transform="translate(427.9,303.01) scale(1.0032,1.02)" text-anchor="end" font-family="'Liberation Sans', sans-serif" font-size="36.0" fill="#4D4D4D">Empathy</text>
<rect x="436.9" y="321.69" width="11.1" height="4.4" fill="#333333"/>
<text transform="translate(427.9,337.59) scale(1.0069,1.02)" text-anchor="end" font-family="'Liberation Sans', sans-serif" font-size="36.0" fill="#4D4D4D">Technology</text>
<rect x="436.9" y="356.27" width="11.1" height="4.4" fill="#333333"/>
<text transform="translate(427.9,372.17) scale(1.0027,1.02)" text-anchor="end" font-family="'Liberation Sans', sans-serif" font-size="36.0" fill="#4D4D4D">Expectations</text>
<rect x="436.9" y="390.85" width="11.1" height="4.4" fill="#333333"/>
<text transform="translate(427.9,406.75) scale(1.0065,1.02)" text-anchor="end" font-family="'Liberation Sans', sans-serif" font-size="36.0" fill="#4D4D4D">Legal</text>
<rect x="436.9" y="425.43" width="11.1" height="4.4" fill="#333333"/>
<text transform="translate(427.9,441.33) scale(1.0028,1.02)" text-anchor="end" font-family="'Liberation Sans', sans-serif" font-size="36.0" fill="#4D4D4D">Competency</text>
<rect x="436.9" y="460.01" width="11.1" height="4.4" fill="#333333"/>
<text transform="translate(427.9,475.91) scale(1.003,1.02)" text-anchor="end" font-family="'Liberation Sans', sans-serif" font-size="36.0" fill="#4D4D4D">Water Quality</text>
<rect x="436.9" y="494.59" width="11.1" height="4.4" fill="#333333"/>
<text transform="translate(427.9,510.49) scale(0.9979,1.02)" text-anchor="end" font-family="'Liberation Sans', sans-serif" font-size="36.0" fill="#4D4D4D">Internal Coordination</text>
<rect x="436.9" y="529.17" width="11.1" height="4.4" fill="#333333"/>
<text transform="translate(427.9,545.07) scale(1.01,1.02)" text-anchor="end" font-family="'Liberation Sans', sans-serif" font-size="36.0" fill="#4D4D4D">Public Image</text>
<rect x="436.9" y="563.75" width="11.1" height="4.4" fill="#333333"/>
<text transform="translate(427.9,579.65) scale(1.0014,1.02)" text-anchor="end" font-family="'Liberation Sans', sans-serif" font-size="36.0" fill="#4D4D4D">Accounting</text>
<rect x="436.9" y="598.33" width="11.1" height="4.4" fill="#333333"/>
<text transform="translate(427.9,614.23) scale(1.0053,1.02)" text-anchor="end" font-family="'Liberation Sans', sans-serif" font-size="36.0" fill="#4D4D4D">Hardship</text>
<rect x="436.9" y="632.91" width="11.1" height="4.4" fill="#333333"/>
<text transform="translate(427.9,648.81) scale(1.0123,1.02)" text-anchor="end" font-family="'Liberation Sans', sans-serif" font-size="36.0" fill="#4D4D4D">Communication</text>
<rect x="436.9" y="667.49" width="11.1" height="4.4" fill="#333333"/>
<text transform="translate(427.9,683.39) scale(1.0075,1.02)" text-anchor="end" font-family="'Liberation Sans', sans-serif" font-size="36.0" fill="#4D4D4D">Culture</text>
<rect x="436.9" y="702.07" width="11.1" height="4.4" fill="#333333"/>
<text transform="translate(427.9,717.97) scale(1.0015,1.02)" text-anchor="end" font-family="'Liberation Sans', sans-serif" font-size="36.0" fill="#4D4D4D">Regulation</text>
<rect x="436.9" y="736.65" width="11.1" height="4.4" fill="#333333"/>
<text transform="translate(427.9,752.55) scale(1.0133,1.02)" text-anchor="end" font-family="'Liberation Sans', sans-serif" font-size="36.0" fill="#4D4D4D">Management</text>
<rect x="436.9" y="771.23" width="11.1" height="4.4" fill="#333333"/>
<text transform="translate(427.9,787.13) scale(0.978,1.02)" text-anchor="end" font-family="'Liberation Sans', sans-serif" font-size="36.0" fill="#4D4D4D">Trust</text>
<rect x="436.9" y="805.81" width="11.1" height="4.4" fill="#333333"/>
<text transform="translate(427.9,821.71) scale(1.0027,1.02)" text-anchor="end" font-family="'Liberation Sans', sans-serif" font-size="36.0" fill="#4D4D4D">Service Recovery</text>
<rect x="436.9" y="840.39" width="11.1" height="4.4" fill="#333333"/>
<text transform="translate(427.9,856.29) scale(1.0004,1.02)" text-anchor="end" font-family="'Liberation Sans', sans-serif" font-size="36.0" fill="#4D4D4D">Pressure</text>
<rect x="436.9" y="874.97" width="11.1" height="4.4" fill="#333333"/>
<text transform="translate(427.9,890.87) scale(0.9958,1.02)" text-anchor="end" font-family="'Liberation Sans', sans-serif" font-size="36.0" fill="#4D4D4D">Advocacy</text>
<rect x="436.9" y="909.55" width="11.1" height="4.4" fill="#333333"/>
<text transform="translate(427.9,925.45) scale(0.999,1.02)" text-anchor="end" font-family="'Liberation Sans', sans-serif" font-size="36.0" fill="#4D4D4D">Reliability</text>
<rect x="436.9" y="944.13" width="11.1" height="4.4" fill="#333333"/>
<text transform="translate(427.9,960.03) scale(1.0033,1.02)" text-anchor="end" font-family="'Liberation Sans', sans-serif" font-size="36.0" fill="#4D4D4D">Pricing</text>
<rect x="436.9" y="978.71" width="11.1" height="4.4" fill="#333333"/>
<text transform="translate(427.9,994.61) scale(0.9967,1.02)" text-anchor="end" font-family="'Liberation Sans', sans-serif" font-size="36.0" fill="#4D4D4D">Responsiveness</text>
<rect x="436.9" y="1013.29" width="11.1" height="4.4" fill="#333333"/>
<text transform="translate(427.9,1029.19) scale(1.0115,1.02)" text-anchor="end" font-family="'Liberation Sans', sans-serif" font-size="36.0" fill="#4D4D4D">Monopoly</text>
<rect x="436.9" y="1047.87" width="11.1" height="4.4" fill="#333333"/>
<text transform="translate(427.9,1063.77) scale(1.0023,1.02)" text-anchor="end" font-family="'Liberation Sans', sans-serif" font-size="36.0" fill="#4D4D4D">Customer Feedback</text>
<rect x="436.9" y="1082.45" width="11.1" height="4.4" fill="#333333"/>
<text transform="translate(427.9,1098.35) scale(1.0003,1.02)" text-anchor="end" font-family="'Liberation Sans', sans-serif" font-size="36.0" fill="#4D4D4D">Tangibility</text>
<rect x="436.9" y="1117.03" width="11.1" height="4.4" fill="#333333"/>
<text transform="translate(427.9,1132.93) scale(1.0015,1.02)" text-anchor="end" font-family="'Liberation Sans', sans-serif" font-size="36.0" fill="#4D4D4D">Assurance</text>
<rect x="436.9" y="1151.61" width="11.1" height="4.4" fill="#333333"/>
<text transform="translate(427.9,1167.51) scale(1.0033,1.02)" text-anchor="end" font-family="'Liberation Sans', sans-serif" font-size="36.0" fill="#4D4D4D">ServiceFailure</text>
<rect x="436.9" y="1186.19" width="11.1" height="4.4" fill="#333333"/>
<text transform="translate(427.9,1202.09) scale(1.0086,1.02)" text-anchor="end" font-family="'Liberation Sans', sans-serif" font-size="36.0" fill="#4D4D4D">Performance</text>
<rect x="436.9" y="1220.77" width="11.1" height="4.4" fill="#333333"/>
<text transform="translate(427.9,1236.67) scale(1.0021,1.02)" text-anchor="end" font-family="'Liberation Sans', sans-serif" font-size="36.0" fill="#4D4D4D">Sustainability</text>
<rect x="436.9" y="1255.35" width="11.1" height="4.4" fill="#333333"/>
<text transform="translate(427.9,1271.25) scale(1.0067,1.02)" text-anchor="end" font-family="'Liberation Sans', sans-serif" font-size="36.0" fill="#4D4D4D">Ownership</text>
<rect x="436.9" y="1289.93" width="11.1" height="4.4" fill="#333333"/>
<text transform="translate(427.9,1305.83) scale(0.9903,1.02)" text-anchor="end" font-family="'Liberation Sans', sans-serif" font-size="36.0" fill="#4D4D4D">Involvement</text>
<rect x="436.9" y="1324.51" width="11.1" height="4.4" fill="#333333"/>
<text transform="translate(427.9,1340.41) scale(1.0037,1.02)" text-anchor="end" font-family="'Liberation Sans', sans-serif" font-size="36.0" fill="#4D4D4D">Research</text>
<rect x="436.9" y="1359.09" width="11.1" height="4.4" fill="#333333"/>
<text transform="translate(427.9,1374.99) scale(0.9941,1.02)" text-anchor="end" font-family="'Liberation Sans', sans-serif" font-size="36.0" fill="#4D4D4D">Political Focus</text>
<rect x="436.9" y="1393.67" width="11.1" height="4.4" fill="#333333"/>
<text transform="translate(427.9,1409.57) scale(1.0089,1.02)" text-anchor="end" font-family="'Liberation Sans', sans-serif" font-size="36.0" fill="#4D4D4D">Segmentation</text>
<rect x="436.9" y="1428.25" width="11.1" height="4.4" fill="#333333"/>
<text transform="translate(427.9,1444.15) scale(1.009,1.02)" text-anchor="end" font-family="'Liberation Sans', sans-serif" font-size="36.0" fill="#4D4D4D">Empowerment</text>
<text transform="translate(998.5,1556) scale(1,1.02)" text-anchor="middle" font-family="'Liberation Sans', sans-serif" font-size="45.4" fill="#000000">Code frequency in interviews</text>
<text transform="translate(57,772.5) rotate(-90) scale(1,1.02)" text-anchor="middle" font-family="'Liberation Sans', sans-serif" font-size="45.4" fill="#000000">Code</text>
<rect x="629" y="1640" width="66" height="67" fill="#619CFF"/>
<text transform="translate(707.4,1687.0) scale(1.0,1.02)" font-family="'Liberation Sans', sans-serif" font-size="36.0" fill="#000000">Regulator</text>
<rect x="875" y="1640" width="66" height="67" fill="#F8766D"/>
<text transform="translate(953.6,1687.0) scale(0.988,1.02)" font-family="'Liberation Sans', sans-serif" font-size="36.0" fill="#000000">Advocate</text>
<rect x="1113" y="1640" width="66" height="67" fill="#00BA38"/>
<text transform="translate(1190.9,1687.0) scale(0.995,1.02)" font-family="'Liberation Sans', sans-serif" font-size="36.0" fill="#000000">Professional</text>
</svg>
</body></html>
